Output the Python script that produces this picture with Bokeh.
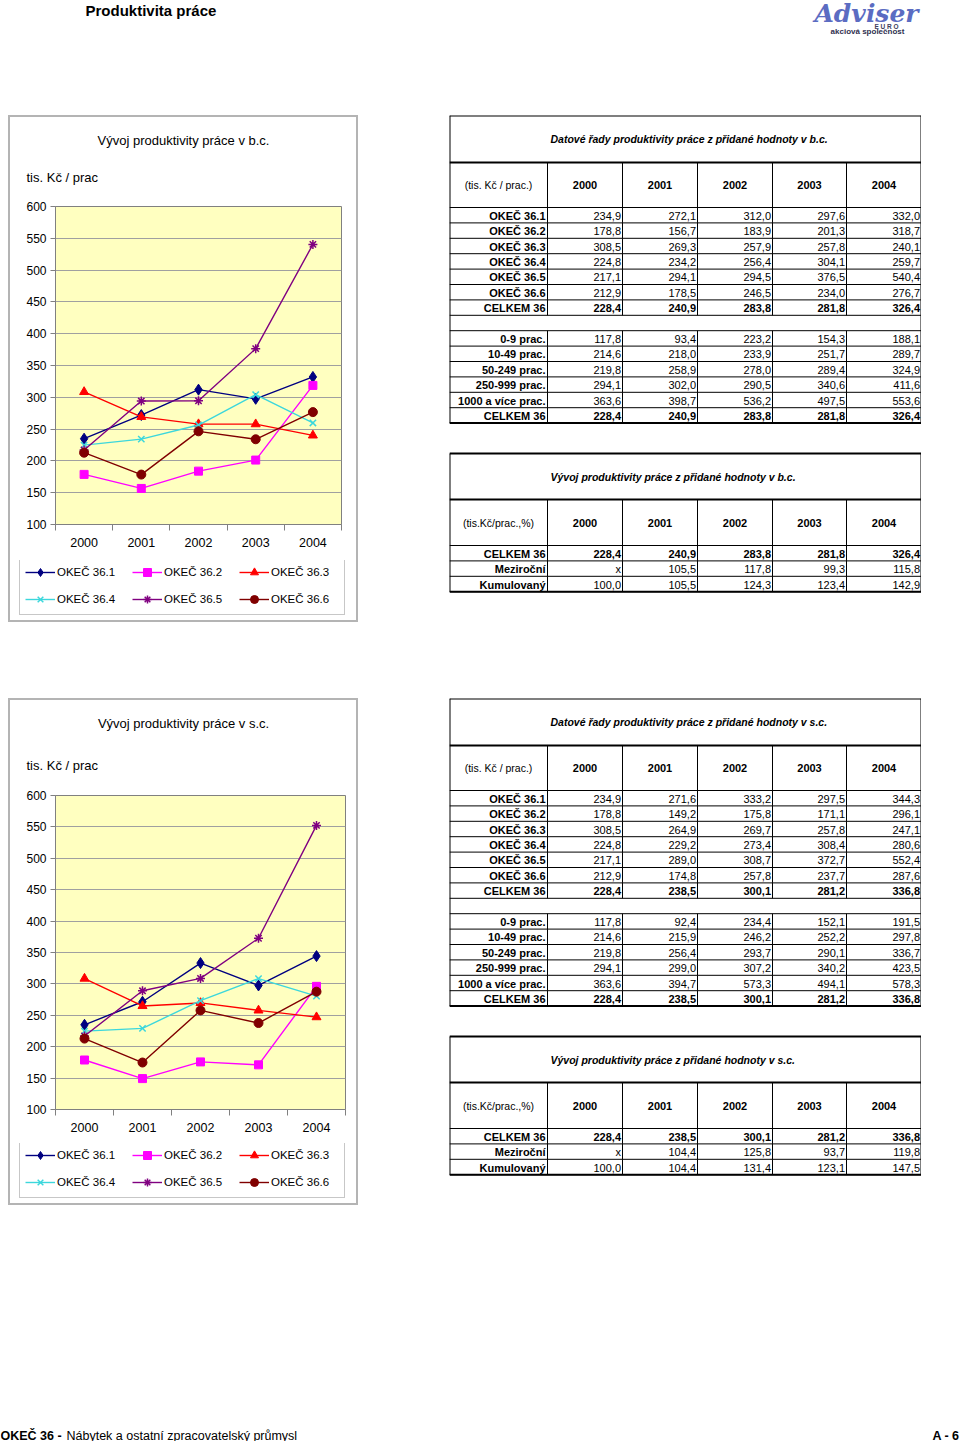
from bokeh.plotting import figure
from bokeh.models import (Range1d, FixedTicker, Legend, LegendItem, Spacer, ColumnDataSource)
from bokeh.layouts import column, row
from bokeh.embed import file_html
from bokeh.resources import INLINE
from bokeh.core.properties import value

# ---------------------------------------------------------------- data
years = [2000, 2001, 2002, 2003, 2004]
year_labels = ["2000", "2001", "2002", "2003", "2004"]
y_ticks = [100, 150, 200, 250, 300, 350, 400, 450, 500, 550, 600]

series_names = ["OKEČ 36.1", "OKEČ 36.2", "OKEČ 36.3", "OKEČ 36.4", "OKEČ 36.5", "OKEČ 36.6"]
okec_labels = series_names + ["CELKEM 36"]
size_labels = ["0-9 prac.", "10-49 prac.", "50-249 prac.", "250-999 prac.",
               "1000 a více prac.", "CELKEM 36"]
dev_labels = ["CELKEM 36", "Meziroční", "Kumulovaný"]

# běžné ceny (b.c.)
bc_36_1 = [234.9, 272.1, 312.0, 297.6, 332.0]
bc_36_2 = [178.8, 156.7, 183.9, 201.3, 318.7]
bc_36_3 = [308.5, 269.3, 257.9, 257.8, 240.1]
bc_36_4 = [224.8, 234.2, 256.4, 304.1, 259.7]
bc_36_5 = [217.1, 294.1, 294.5, 376.5, 540.4]
bc_36_6 = [212.9, 178.5, 246.5, 234.0, 276.7]
bc_celkem = [228.4, 240.9, 283.8, 281.8, 326.4]
bc_0_9 = [117.8, 93.4, 223.2, 154.3, 188.1]
bc_10_49 = [214.6, 218.0, 233.9, 251.7, 289.7]
bc_50_249 = [219.8, 258.9, 278.0, 289.4, 324.9]
bc_250_999 = [294.1, 302.0, 290.5, 340.6, 411.6]
bc_1000 = [363.6, 398.7, 536.2, 497.5, 553.6]
bc_mezirocni = [None, 105.5, 117.8, 99.3, 115.8]
bc_kumulovany = [100.0, 105.5, 124.3, 123.4, 142.9]

# stálé ceny (s.c.)
sc_36_1 = [234.9, 271.6, 333.2, 297.5, 344.3]
sc_36_2 = [178.8, 149.2, 175.8, 171.1, 296.1]
sc_36_3 = [308.5, 264.9, 269.7, 257.8, 247.1]
sc_36_4 = [224.8, 229.2, 273.4, 308.4, 280.6]
sc_36_5 = [217.1, 289.0, 308.7, 372.7, 552.4]
sc_36_6 = [212.9, 174.8, 257.8, 237.7, 287.6]
sc_celkem = [228.4, 238.5, 300.1, 281.2, 336.8]
sc_0_9 = [117.8, 92.4, 234.4, 152.1, 191.5]
sc_10_49 = [214.6, 215.9, 246.2, 252.2, 297.8]
sc_50_249 = [219.8, 256.4, 293.7, 290.1, 336.7]
sc_250_999 = [294.1, 299.0, 307.2, 340.2, 423.5]
sc_1000 = [363.6, 394.7, 573.3, 494.1, 578.3]
sc_mezirocni = [None, 104.4, 125.8, 93.7, 119.8]
sc_kumulovany = [100.0, 104.4, 131.4, 123.1, 147.5]

# ---------------------------------------------------------------- styles
SANS = "Liberation Sans"
STYLES = [
    dict(color="#000080", marker="diamond", size=11),
    dict(color="#FF00FF", marker="square", size=8),
    dict(color="#FF0000", marker="triangle", size=9),
    dict(color="#3CD7DC", marker="x", size=9),
    dict(color="#800080", marker="asterisk", size=9),
    dict(color="#800000", marker="circle", size=9),
]
BOX_GRAY = "#B4B4B4"


def blank_fig(w, h, xr, yr):
    f = figure(width=w, height=h, x_range=Range1d(*xr), y_range=Range1d(*yr), min_border=0,
               x_axis_type=None, y_axis_type=None, toolbar_location=None, output_backend="svg",
               outline_line_color=None, background_fill_color="white",
               border_fill_color="white")
    f.grid.visible = False
    f.frame_align = False
    return f


def add_series(p, xs, ys, st):
    lr = p.line(xs, ys, line_color=st["color"], line_width=1.4)
    if st["marker"] in ("x", "asterisk"):
        sr = p.scatter(xs, ys, marker=st["marker"], size=st["size"],
                       line_color=st["color"], line_width=1.5)
    else:
        sr = p.scatter(xs, ys, marker=st["marker"], size=st["size"],
                       fill_color=st["color"], line_color=st["color"])
    return lr, sr


def make_chart(title, series, box_top, frame_top, frame_bottom, frame_right, leg_top,
               title_y, ylab_y):
    """all positions in page pixels; inner box spans x 10..356"""
    W, L = 346, 10
    box_bottom = box_top + 505
    # title strip
    tf = blank_fig(W, frame_top - 8 - (box_top + 2), (L, L + W), (frame_top - 8, box_top + 2))
    tf.text(x=[183], y=[title_y], text=[title], text_align="center", text_baseline="middle",
            text_font=value(SANS), text_font_size="13px", text_color="black")
    tf.text(x=[26], y=[ylab_y], text=["tis. Kč / prac"], text_align="left",
            text_baseline="middle", text_font=value(SANS), text_font_size="13px",
            text_color="black")

    # chart
    H = leg_top - (frame_top - 8)
    p = figure(width=W, height=H, x_range=Range1d(1999.5, 2004.5), y_range=Range1d(100, 600),
               min_border_left=55 - L, min_border_right=L + W - frame_right, min_border_top=8,
               min_border_bottom=leg_top - frame_bottom, toolbar_location=None,
               output_backend="svg", background_fill_color="#FFFFC0",
               border_fill_color="white")
    p.frame_align = False
    p.outline_line_color = "#808080"
    p.xgrid.visible = False
    p.ygrid.ticker = FixedTicker(ticks=y_ticks)
    p.ygrid.grid_line_color = "#A0A0A0"

    p.yaxis.ticker = FixedTicker(ticks=y_ticks)
    p.yaxis.major_tick_out = 5
    p.yaxis.major_tick_in = 0
    p.yaxis.minor_tick_out = 0
    p.yaxis.minor_tick_in = 0
    p.yaxis.axis_line_color = "#808080"
    p.yaxis.major_tick_line_color = "#808080"
    p.yaxis.major_label_standoff = 4
    p.yaxis.major_label_text_font = SANS
    p.yaxis.major_label_text_font_size = "12px"
    p.yaxis.major_label_text_color = "black"

    bounds = [y - 0.5 for y in years] + [years[-1] + 0.5]
    p.xaxis.ticker = FixedTicker(ticks=years, minor_ticks=bounds)
    p.xaxis.major_label_overrides = {y: l for y, l in zip(years, year_labels)}
    p.xaxis.major_tick_out = 0
    p.xaxis.major_tick_in = 0
    p.xaxis.minor_tick_out = 6
    p.xaxis.minor_tick_in = 0
    p.xaxis.minor_tick_line_color = "#808080"
    p.xaxis.axis_line_color = "#808080"
    p.xaxis.major_label_standoff = 7
    p.xaxis.major_label_text_font = SANS
    p.xaxis.major_label_text_font_size = "12.5px"
    p.xaxis.major_label_text_color = "black"

    for vals, st in zip(series, STYLES):
        add_series(p, years, vals, st)

    # legend strip: its swatches come from the same series, kept outside its view
    lf = blank_fig(W, box_bottom - 2 - leg_top, (0, 1), (0, 1))
    items = []
    for name, vals, st in zip(series_names, series, STYLES):
        lr, sr = add_series(lf, years, vals, st)
        items.append(LegendItem(label=name, renderers=[lr, sr]))
    leg = Legend(items=items, orientation="horizontal", ncols=3, location=(9, 3),
                 glyph_width=30, glyph_height=20, label_height=20, label_width=68,
                 label_standoff=2, spacing=7, padding=5, margin=0,
                 border_line_color="#909090", border_line_width=1,
                 background_fill_color="white",
                 background_fill_alpha=1.0, label_text_font=SANS,
                 label_text_font_size="11.5px", label_text_color="black")
    lf.add_layout(leg, "center")

    def gray(w, h):
        return Spacer(width=w, height=h, styles={"background-color": BOX_GRAY})

    return column(gray(350, 2), row(gray(2, 503), column(tf, p, lf), gray(2, 503)),
                  gray(350, 2))


COLS = [449, 547, 622, 697, 772, 846, 921]
RH = 15.4


def fmt(v):
    return "x" if v is None else f"{v:.1f}".replace(".", ",")


def draw_table(p, top, title_h, head_h, title, head_label, rows):
    """rows: list of (label, values, bold) or None for an empty spacer row"""
    tb = top + title_h
    hb = tb + head_h
    bottom = hb + RH * len(rows)
    thick = dict(x0=[], y0=[], x1=[], y1=[])
    thin = dict(x0=[], y0=[], x1=[], y1=[])

    def seg(d, a, b, c, e):
        d["x0"].append(a); d["y0"].append(b); d["x1"].append(c); d["y1"].append(e)

    seg(thick, COLS[0], top, COLS[-1], top)
    seg(thick, COLS[0], bottom, COLS[-1], bottom)
    seg(thick, COLS[0], top, COLS[0], bottom)
    seg(thick, COLS[-1], top, COLS[-1], bottom)
    seg(thick, COLS[0], tb, COLS[-1], tb)
    seg(thin, COLS[0], hb, COLS[-1], hb)
    for x in COLS[1:-1]:
        seg(thin, x, tb, x, hb)
    tx = dict(x=[], y=[], text=[])
    tb_txt = dict(x=[], y=[], text=[])
    lab = dict(x=[], y=[], text=[])
    for i, r in enumerate(rows):
        y0 = hb + RH * i
        y1 = y0 + RH
        seg(thin, COLS[0], y1, COLS[-1], y1)
        if r is None:
            continue
        label, vals, bold = r
        for x in COLS[1:-1]:
            seg(thin, x, y0, x, y1)
        yc = (y0 + y1) / 2 + 0.5
        lab["x"].append(COLS[1] - 2); lab["y"].append(yc); lab["text"].append(label)
        d = tb_txt if bold else tx
        for j, v in enumerate(vals):
            d["x"].append(COLS[j + 2] - 1.5); d["y"].append(yc); d["text"].append(fmt(v))

    p.segment(x0="x0", y0="y0", x1="x1", y1="y1", source=ColumnDataSource(thick),
              line_color="black", line_width=2)
    p.segment(x0="x0", y0="y0", x1="x1", y1="y1", source=ColumnDataSource(thin),
              line_color="black", line_width=1)
    common = dict(text_font=value(SANS), text_font_size="11px", text_color="black",
                  text_baseline="middle")
    p.text(x="x", y="y", text="text", source=ColumnDataSource(lab), text_align="right",
           text_font_style="bold", **common)
    p.text(x="x", y="y", text="text", source=ColumnDataSource(tx), text_align="right", **common)
    p.text(x="x", y="y", text="text", source=ColumnDataSource(tb_txt), text_align="right",
           text_font_style="bold", **common)
    hy = (tb + hb) / 2
    p.text(x=[(COLS[0] + COLS[1]) / 2], y=[hy], text=[head_label], text_align="center",
           text_font=value(SANS), text_font_size="10.5px", text_color="black",
           text_baseline="middle")
    p.text(x=[(COLS[k] + COLS[k + 1]) / 2 for k in range(1, 6)], y=[hy] * 5, text=year_labels,
           text_align="center", text_font_style="bold", **common)
    p.text(x=[550], y=[(top + tb) / 2], text=[title], text_align="left",
           text_font=value(SANS), text_font_style="bold italic", text_font_size="10.5px",
           text_color="black", text_baseline="middle")


def make_tables(y0, tag, s):
    off = y0 - 115
    p = blank_fig(472, 507, (449, 921), (y0 + 507, y0))
    rows_a = [(l, v, l.startswith("CELKEM")) for l, v in zip(okec_labels, s["okec"])]
    rows_a += [None]
    rows_a += [(l, v, l.startswith("CELKEM")) for l, v in zip(size_labels, s["size"])]
    draw_table(p, 115 + off, 47, 45,
               f"Datové řady produktivity práce z přidané hodnoty v {tag}",
               "(tis. Kč / prac.)", rows_a)
    rows_b = [(l, v, l.startswith("CELKEM")) for l, v in zip(dev_labels, s["dev"])]
    draw_table(p, 453 + off, 46, 46,
               f"Vývoj produktivity práce z přidané hodnoty v {tag}",
               "(tis.Kč/prac.,%)", rows_b)
    return p


bc = dict(okec=[bc_36_1, bc_36_2, bc_36_3, bc_36_4, bc_36_5, bc_36_6, bc_celkem],
          size=[bc_0_9, bc_10_49, bc_50_249, bc_250_999, bc_1000, bc_celkem],
          dev=[bc_celkem, bc_mezirocni, bc_kumulovany])
sc = dict(okec=[sc_36_1, sc_36_2, sc_36_3, sc_36_4, sc_36_5, sc_36_6, sc_celkem],
          size=[sc_0_9, sc_10_49, sc_50_249, sc_250_999, sc_1000, sc_celkem],
          dev=[sc_celkem, sc_mezirocni, sc_kumulovany])

chart1 = make_chart("Vývoj produktivity práce v b.c.", bc["okec"][:6],
                    115, 206, 524, 341, 560, 140, 177)
chart2 = make_chart("Vývoj produktivity práce v s.c.", sc["okec"][:6],
                    698, 795, 1109, 345, 1143, 723, 765)
tables1 = make_tables(115, "b.c.", bc)
tables2 = make_tables(698, "s.c.", sc)

# header
hdr = blank_fig(960, 115, (0, 960), (115, 0))
hdr.text(x=[85], y=[1], text=["Produktivita práce"], text_font=value(SANS),
         text_font_style="bold", text_font_size="15px", text_baseline="top", text_color="black")
hdr.text(x=[866], y=[13], text=["Adviser"], text_font=value("DejaVu Serif"),
         text_font_style="bold italic", text_font_size="25px", text_baseline="middle",
         text_align="center", text_color="#5B6CC2")
hdr.text(x=[886], y=[25.5], text=["E U R O"], text_font=value(SANS), text_font_style="bold",
         text_font_size="6.5px", text_baseline="middle", text_align="center",
         text_color="#404060")
hdr.text(x=[867], y=[31], text=["akciová společnost"], text_font=value(SANS),
         text_font_style="bold", text_font_size="8px", text_baseline="middle",
         text_align="center", text_color="#303050")

# footer
ftr = blank_fig(960, 236, (0, 960), (1441, 1205))
ftr.text(x=[0], y=[1435], text=["OKEČ 36 -"], text_font=value(SANS), text_font_style="bold",
         text_font_size="12.5px", text_baseline="middle", text_color="black")
ftr.text(x=[66], y=[1435], text=["Nábytek a ostatní zpracovatelský průmysl"],
         text_font=value(SANS), text_font_size="12.5px", text_baseline="middle",
         text_color="black")
ftr.text(x=[959], y=[1435], text=["A - 6"], text_font=value(SANS), text_font_style="bold",
         text_font_size="12.5px", text_baseline="middle", text_align="right", text_color="black")

page = column(
    hdr,
    row(Spacer(width=8, height=507), chart1, Spacer(width=91, height=507), tables1),
    Spacer(width=960, height=76),
    row(Spacer(width=8, height=507), chart2, Spacer(width=91, height=507), tables2),
    ftr,
)

open("out.html", "w").write(file_html(page, INLINE))
